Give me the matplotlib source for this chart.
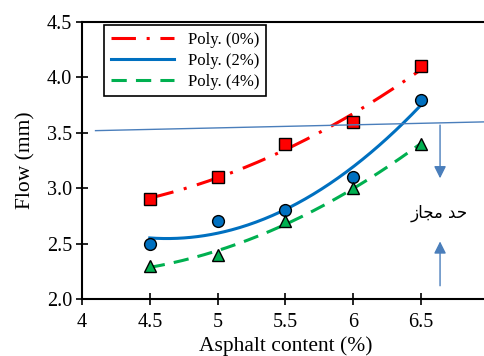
import numpy as np
import matplotlib.pyplot as plt

plt.rcParams['font.family'] = ['Liberation Serif', 'DejaVu Sans']

asphalt = [4.5, 5.0, 5.5, 6.0, 6.5]
flow_0 = [2.9, 3.1, 3.4, 3.6, 4.1]
flow_2 = [2.5, 2.7, 2.8, 3.1, 3.8]
flow_4 = [2.3, 2.4, 2.7, 3.0, 3.4]
labels = ['Poly. (0%)', 'Poly. (2%)', 'Poly. (4%)']
limit_x = [4.1, 7.0]
limit_y = [3.52, 3.60]
# "حد مجاز" in presentation forms, visual order (matplotlib does no shaping)
limit_text = '\uFEAF\uFE8E\uFEA0\uFEE3 \uFEAA\uFEA3'

fig = plt.figure(figsize=(4.85, 3.56), dpi=100)
ax = fig.add_axes([0.169, 0.160, 0.839, 0.778])

xs = np.linspace(4.5, 6.5, 200)
series = [
    (flow_0, '#ff0000', 's', dict(dashes=(8, 3.5, 1, 3.5))),
    (flow_2, '#0070c0', 'o', dict(linestyle='-')),
    (flow_4, '#00b050', '^', dict(dashes=(5, 3))),
]
for (ys, col, mk, st), lab in zip(series, labels):
    coef = np.polyfit(asphalt, ys, 2)
    ax.plot(xs, np.polyval(coef, xs), color=col, lw=2.2, label=lab, **st)
    ax.plot(asphalt, ys, linestyle='none', marker=mk, color=col,
            markeredgecolor='black', markeredgewidth=1.0, markersize=8.5)

ax.plot(limit_x, limit_y, color='#4a7ebb', lw=1.0)
ax.annotate('', xy=(6.64, 3.09), xytext=(6.64, 3.57),
            arrowprops=dict(arrowstyle='-|>', color='#4a7ebb', lw=1.0,
                            mutation_scale=18, shrinkA=0, shrinkB=0))
ax.annotate('', xy=(6.64, 2.52), xytext=(6.64, 2.12),
            arrowprops=dict(arrowstyle='-|>', color='#4a7ebb', lw=1.0,
                            mutation_scale=18, shrinkA=0, shrinkB=0))
ax.text(6.63, 2.78, limit_text, family=['DejaVu Sans'], fontsize=12,
        ha='center', va='center')

ax.set_xlim(4, 7)
ax.set_ylim(2.0, 4.5)
ax.set_xticks([4, 4.5, 5, 5.5, 6, 6.5, 7])
ax.set_xticklabels(['4', '4.5', '5', '5.5', '6', '6.5', ''])
ax.set_yticks([2.0, 2.5, 3.0, 3.5, 4.0, 4.5])
ax.set_yticklabels(['2.0', '2.5', '3.0', '3.5', '4.0', '4.5'])
ax.tick_params(direction='inout', length=8, width=1.2, labelsize=14.5)
ax.tick_params(axis='x', pad=6)
ax.tick_params(axis='y', pad=3)
for s in ax.spines.values():
    s.set_linewidth(1.5)

ax.set_xlabel('Asphalt content (%)', fontsize=15.5, labelpad=3)
ax.set_ylabel('Flow (mm)', fontsize=15.5, labelpad=8)

leg = ax.legend(loc='upper left', bbox_to_anchor=(0.055, 0.99), borderaxespad=0,
                fontsize=12, fancybox=False, edgecolor='black', framealpha=1,
                handlelength=3.8, labelspacing=0.3, borderpad=0.4)
leg.get_frame().set_linewidth(1.2)

fig.savefig('out.png', dpi=100)
